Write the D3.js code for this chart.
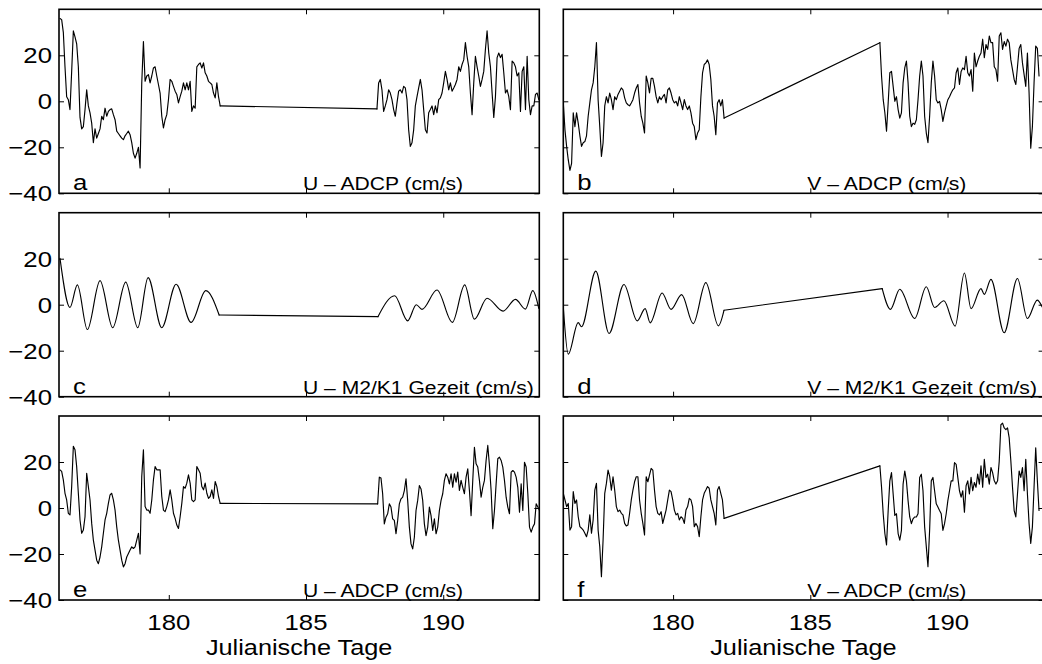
<!DOCTYPE html>
<html>
<head>
<meta charset="utf-8">
<script src="https://cdn.jsdelivr.net/npm/d3@7"></script>
<style>
  html, body { margin: 0; padding: 0; background: #fff; }
  svg { display: block; }
</style>
</head>
<body>
<svg id="chart" width="1042" height="664"></svg>
<script>
// ---------------- data ----------------
const xDomain = [176, 193.5];
const yDomain = [-40, 40];
const yTicks = [-40, -20, 0, 20];
const xTicks = [180, 185, 190];
const xLabel = "Julianische Tage";

const stepLeft = 0.0608;   // days between samples (left column readings)
const stepRight = 0.0604;  // days between samples (right column readings)

// a : U – ADCP
const uAdcpStart1 = 176.036;
const uAdcp1 = [36,35.5,30,15,2,0.7,-3.6,13,30.6,28,25,15,-7,-12,-11,-3.6,5,-2,-5,-9.5,-18,-12,-16,-14,-12,-6.5,-8,-3,-6.5,-4.4,-3.6,-3.3,-5.8,-8,-13,-14,-15,-16,-16.7,-15,-14,-13,-14.5,-18,-22.6,-24.7,-22.6,-20,-29,8,26,8.7,11,11.6,8,11,14.5,15,11,7.3,3.6,-6.5,-11.6,-8,-5.8,0.7,9.5,8.7,6.5,4.4,3,-0.7,2,4.4,8,5,8,5,8.7,-4.4,-2,-3,15,16,16.7,14.5,16.7,12.4,11,8.7,8,7.3,3.6,1.5,8,2,-2];
const uAdcpStart2 = 187.585;
const uAdcp2 = [-3.3,8,9.5,5,-4.4,-2,0.7,5,3.6,0.7,-3.6,-6.5,-0.7,4.4,5,3.6,6.5,5.8,0.7,-12.4,-19.6,-18,-12.4,-2,2,5.8,9.5,5,-3.6,-12.4,-13.8,-5,-3.6,-2,-5.8,-2,-5,0.7,1.5,3.6,8,13,9.5,5,8,4.4,5.8,7.3,9.5,15,13,16,18,25.5,19.6,15,3.6,-5.8,8,19.6,15,11,6.5,9.5,13,22.6,30.6,21,15,3.6,-7,2,19,21,19,20.4,12.4,3.6,5,2,-3.6,17.5,16.7,15,11,12.4,-4.4,13,15,-3.6,19.6,0.7,-5.8,-2,-2,3,3.6,0.7];

// b : V – ADCP
const vAdcpStart1 = 176.0;
const vAdcp1 = [-0.7,-12.4,-19.6,-25.5,-30,-27,-5,-11,-5,-9.5,-15,-19.6,-18,-17.5,-15,-6.5,-0.7,5,8,15,25.5,0.7,-11,-24,-18,-2,2,-0.7,3.6,0.7,-3.6,2,0.7,3,4.4,5.8,5,1.5,-0.7,-1.5,-2,-0.7,0.7,3.6,5.8,7.3,-0.7,-6.5,-9.5,-13.8,11,8,3.6,10,10,6.5,2,-0.7,2,0.7,2,3,-0.7,5,5.8,3.6,0.7,-0.7,0,-2,2,-0.7,-3.6,0.7,-2,-3.6,-2,-5,-9.5,-11,-16.7,-13.8,-12.4,2,12.4,16,16.7,18,16,9.5,-2,-6.5,-14.5,-0.7,0.7,-2,0.7,-7.3];
const vAdcpStart2 = 187.535;
const vAdcp2 = [25.5,11,0.7,-5,-13,-0.7,12.4,13,6.5,0,2,-3.6,-7.3,-5,8,14.5,17.5,8,-6.5,-11,-9.5,-10,-8,0.7,11,17.5,11,-6.5,-13.8,-18,-6.5,8,17.5,11,0.7,-0.7,0,-3.6,-8.7,-5,-2,0.7,2,3.6,5,5.8,12.4,14.5,7.3,13,14.5,13.8,19.6,12.4,11,13.8,4.4,21,15,17.5,19.6,21,27,19,24.7,22.6,28.4,25.5,25.5,15,13.8,8.7,28.4,29.8,22.6,26,24,27,25.5,18,13.8,9.5,7.3,15,23,24.7,16.7,11.6,6.5,21,3.6,-20.4,-11,8,24,23,11];

// c : U – M2/K1 Gezeit  (turning points, two record pieces)
const uTideDays1 = [176.036,176.401,176.669,177.033,177.495,177.957,178.431,178.869,179.246,179.744,180.267,180.814,181.349,181.835];
const uTide1 = [20.2,-1.2,8.6,-10.8,10.5,-10,9.8,-10,11.8,-10,8.9,-7.7,6.1,-4.5];
const uTideDays2 = [187.621,188.229,188.703,189.019,189.226,189.773,190.332,190.782,191.135,191.597,192.180,192.630,192.995,193.262,193.481];
const uTide2 = [-5.2,3.9,-7,0,-2,6.4,-7.7,8.6,-6.3,2.8,-2.8,2.3,-1.9,6.1,-1.6];

// d : V – M2/K1 Gezeit
const vTideDays1 = [176.0,176.181,176.543,176.664,177.184,177.667,178.210,178.693,178.983,179.164,179.599,179.925,180.312,180.734,181.193,181.652,181.857];
const vTide1 = [-1,-21.5,-7.8,-9.6,14.6,-12.5,8.8,-7,-1.7,-7.9,5.1,-2,4.4,-8.2,9.6,-9.2,-2.4];
const vTideDays2 = [187.619,187.921,188.259,188.803,189.225,189.527,189.866,190.276,190.614,190.856,191.218,191.339,191.581,192.064,192.547,192.909,193.271,193.45];
const vTide2 = [7,-2,6.7,-6,7.8,-1.2,1.7,-9.3,13.8,-1.7,7,4.5,11,-12.2,11.4,-6,2,-1];

// e : U – ADCP (residual)
const uResStart1 = 176.036;
const uRes1 = [16.6,15.9,12.2,6.4,3.5,-2.3,-3,9.3,26.8,25.3,18,6.4,-5.2,-11,-9.6,-3.8,15.1,9.3,3.5,-6.7,-14,-18.3,-22.7,-24.2,-21.3,-16.9,-11,-5.2,-2.3,2,5.7,6.4,3.5,-0.9,-8.2,-14,-18.3,-22.7,-25.6,-24.2,-21.3,-19.8,-18.3,-16.9,-17.6,-16.9,-14,-11,-20,13.7,25.3,0.6,-0.9,-0.9,-2.3,3.5,12.2,18,16.6,16.6,16.6,5,-0.9,-1.6,0.6,3.5,7.9,3.5,-2.3,-4.5,-7.4,-8.9,-3.8,2,9.3,8.6,10.8,14.4,10.8,3.5,2.8,3.5,18,16.6,15.1,9.3,7.9,10.8,6.4,4.2,5,7.9,4.2,11.5,9.3,5,2];
const uResStart2 = 187.610;
const uRes2 = [1.8,13.4,13,6.2,-6.9,-4,-2.5,1.8,0.4,-4.7,-5.4,-11.2,-5.4,1.8,4,4.7,7.6,12.7,3.3,-8.3,-15.6,-17.8,-12.7,-1.1,3.3,9.8,8.3,3.3,-6.9,-12,-8.3,0.4,-3.3,-9.8,-4.7,-11.2,-8.3,-1.1,3.3,6.2,12,14.9,13.4,10.5,14.9,9,14.9,11.2,15.6,7.6,12,9,6.2,13.4,17,7.6,-3.3,12,26.4,19.2,17.8,12,4.7,9,12,20.7,27.2,18.5,7.6,-9,-1.1,10.5,21.4,22.1,20.7,17.8,12,4.7,0.4,-2.5,15.6,16.3,15.6,13.4,9,-1.8,10.5,-1.1,19.9,17.8,6.2,-8.3,-10.5,-8.3,-6.9,1.8,0.4,-1.1];

// f : V – ADCP (residual)
const vResStart1 = 176.0;
const vRes1 = [6.4,3.5,0.6,2,-9.6,-8.1,7.1,2,3.5,-3.8,-8.1,-8.8,-9.6,-11,-12.5,-9.6,-3,-11,-5.2,7.8,10.7,-9.6,-16.8,-29.9,-13.9,6.4,10.7,16.5,13.6,7.8,13.6,7.8,0.6,-1.6,-0.9,-2.3,-3,-6.7,-7.8,-7.4,-2.3,3.5,7.8,11.4,13.6,13.6,3.5,-2.3,-6.7,-11.7,13.6,11.4,14.3,17.2,16.5,7.8,0.6,-2.3,-3,-1.6,-6.7,-3.8,-0.9,3.5,7.8,7.1,3.5,-0.9,-3,-2.3,-5.2,-3.8,-4.5,-6.7,-0.9,0.6,4.2,3.5,0.6,-8.1,-6.7,-8.1,-12.5,-3.8,3.5,6.4,7.8,9.3,8.6,3.5,0.6,-2.3,-7.4,7.8,9.3,6.4,3.5,-4.5];
const vResStart2 = 187.535;
const vRes2 = [18.3,9,-2.5,-11.1,-16.1,-1.1,11.8,15.4,6.1,-3.2,-2.5,-11.1,-14,-9.7,10.4,16.1,11.8,3.2,-3.9,-6.8,-4.7,-3.9,-3.9,-2.5,13.3,14.7,7.5,-8.2,-16.8,-25.5,-9.7,11.8,13.3,7.5,1.8,0.4,-1.1,-2.5,-9.7,-6.8,-2.5,3.2,7.5,11.8,11.8,19.7,19,13.3,7.5,4.7,7.5,-1.8,9.7,11.8,6.1,13.3,7.5,11.1,9,14.7,10.4,18.3,9,21.2,13.3,14.7,10.4,17.6,15.4,11.8,10.4,11.8,20.4,36.2,36.9,34.8,34.1,34.8,30.5,20.4,9,-1.1,-3.9,6.1,16.1,13.3,17.6,7.5,21.2,6.1,-6.8,-15.4,-8.2,9,26.2,11.8,-1.1];

const letters = ["a","b","c","d","e","f"];
const titles = ["U \u2013 ADCP (cm/s)","V \u2013 ADCP (cm/s)",
                "U \u2013 M2/K1 Gezeit (cm/s)","V \u2013 M2/K1 Gezeit (cm/s)",
                "U \u2013 ADCP (cm/s)","V \u2013 ADCP (cm/s)"];

// ---------------- build series ----------------
function regular(start, step, vals) { return vals.map((v, i) => [start + i * step, v]); }
function paired(days, vals) { return days.map((d, i) => [d, vals[i]]); }

const series = [
  { seg: [regular(uAdcpStart1, stepLeft, uAdcp1), regular(uAdcpStart2, stepLeft, uAdcp2)], smooth: false },
  { seg: [regular(vAdcpStart1, stepRight, vAdcp1), regular(vAdcpStart2, stepRight, vAdcp2)], smooth: false },
  { seg: [paired(uTideDays1, uTide1), paired(uTideDays2, uTide2)], smooth: true },
  { seg: [paired(vTideDays1, vTide1), paired(vTideDays2, vTide2)], smooth: true },
  { seg: [regular(uResStart1, stepLeft, uRes1), regular(uResStart2, stepLeft, uRes2)], smooth: false },
  { seg: [regular(vResStart1, stepRight, vRes1), regular(vResStart2, stepRight, vRes2)], smooth: false }
];

// ---------------- layout ----------------
const colX = [59, 563.3];
const panelW = 480.3;
const rowY = [9.3, 212.7, 416];
const panelH = 184;
const font = "'Liberation Sans', Arial, Helvetica, sans-serif";
const sx = 1.17;       // horizontal text stretch of the original rendering
const tickLen = 5;

const svg = d3.select("#chart");
const defs = svg.append("defs");

function addText(g, x, y, str, size, anchor, stretch) {
  return g.append("text")
    .attr("transform", `translate(${x},${y}) scale(${stretch || sx},1)`)
    .attr("text-anchor", anchor)
    .attr("font-family", font)
    .attr("font-size", size)
    .attr("fill", "#000")
    .text(str);
}

series.forEach((s, i) => {
  const col = i % 2, row = Math.floor(i / 2);
  const x0 = colX[col], y0 = rowY[row];
  const x = d3.scaleLinear().domain(xDomain).range([x0, x0 + panelW]);
  const y = d3.scaleLinear().domain(yDomain).range([y0 + panelH, y0]);
  const g = svg.append("g");

  defs.append("clipPath").attr("id", "clip" + i)
    .append("rect").attr("x", x0).attr("y", y0).attr("width", panelW).attr("height", panelH);

  const curve = s.smooth ? d3.curveMonotoneX : d3.curveLinear;
  const lineC = d3.line().x(d => x(d[0])).y(d => y(d[1])).curve(curve);
  const lineL = d3.line().x(d => x(d[0])).y(d => y(d[1]));
  const [s1, s2] = s.seg;
  const gap = [s1[s1.length - 1], s2[0]];
  const dg = g.append("g").attr("clip-path", `url(#clip${i})`);
  [[s1, lineC], [gap, lineL], [s2, lineC]].forEach(([pts, ln]) => {
    dg.append("path").datum(pts)
      .attr("d", ln)
      .attr("fill", "none").attr("stroke", "#000").attr("stroke-width", 1.15)
      .attr("stroke-linejoin", "round").attr("stroke-linecap", "round");
  });

  // axes (ticks pointing inward on all sides)
  const left = d3.axisLeft(y).tickValues(yTicks).tickSize(-tickLen).tickFormat("");
  const right = d3.axisRight(y).tickValues(yTicks).tickSize(-tickLen).tickFormat("");
  const bottom = d3.axisBottom(x).tickValues(xTicks).tickSize(-tickLen).tickFormat("");
  const top = d3.axisTop(x).tickValues(xTicks).tickSize(-tickLen).tickFormat("");
  const axes = [
    [left, `translate(${x0},0)`],
    [right, `translate(${x0 + panelW},0)`],
    [bottom, `translate(0,${y0 + panelH})`],
    [top, `translate(0,${y0})`]
  ];
  axes.forEach(([ax, tr]) => {
    const a = g.append("g").attr("transform", tr).call(ax);
    a.select(".domain").remove();
    a.selectAll(".tick line").attr("stroke", "#000").attr("stroke-width", 1);
  });
  g.append("rect").attr("x", x0).attr("y", y0).attr("width", panelW).attr("height", panelH)
    .attr("fill", "none").attr("stroke", "#000").attr("stroke-width", 1.6);

  // y tick labels on left column only
  if (col === 0) {
    yTicks.forEach(t => {
      addText(g, x0 - 7, y(t) + 8, d3.format("")(t).replace("-", "\u2212"), 22, "end");
    });
  }
  // x tick labels + x label on bottom row
  if (row === 2) {
    xTicks.forEach(t => addText(g, x(t), 630, String(t), 22, "middle"));
    addText(g, x0 + panelW / 2, 655, xLabel, 22, "middle", 1.15);
  }
  // annotations
  const base = y0 + panelH - 3;
  addText(g, x0 + 14, base, letters[i], 23, "start", 1.12);
  addText(g, x(185) - 3, base, titles[i], 19, "start", 1.11);
});
</script>
</body>
</html>
